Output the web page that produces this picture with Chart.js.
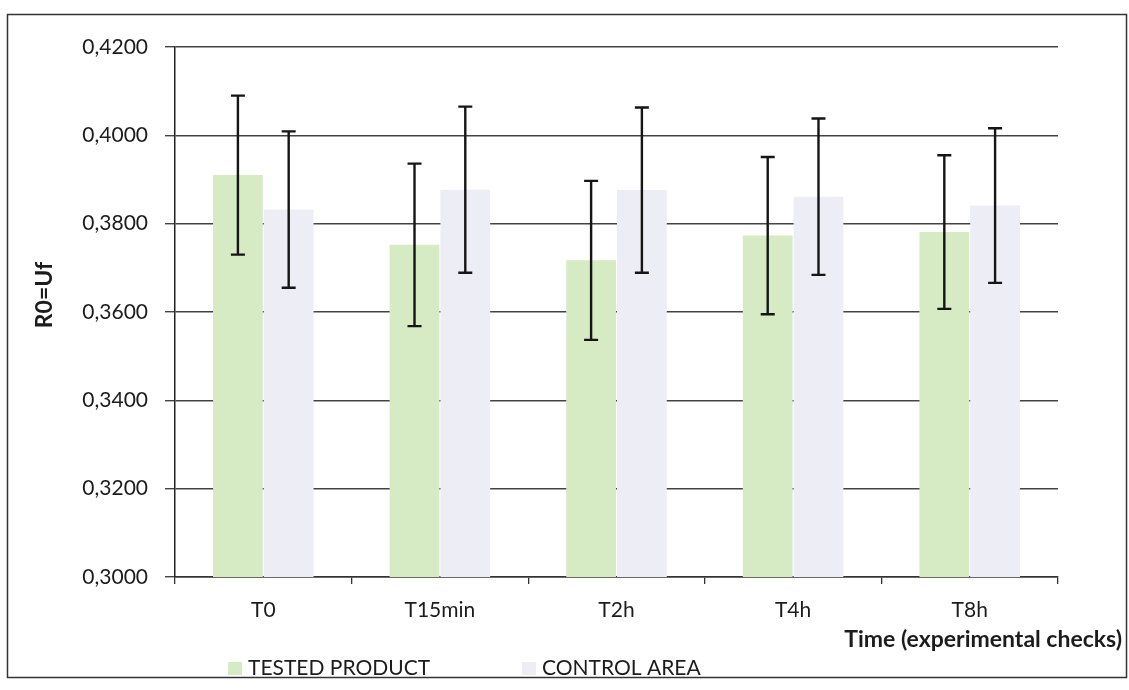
<!DOCTYPE html>
<html>
<head>
<meta charset="utf-8">
<script src="https://cdn.jsdelivr.net/npm/chart.js@4.4.1/dist/chart.umd.min.js"></script>
<style>
  html, body { margin: 0; padding: 0; background: #fff; }
</style>
</head>
<body>
<canvas id="chart" width="1129" height="690"></canvas>
<script>
// data
const categories = ['T0', 'T15min', 'T2h', 'T4h', 'T8h'];
const testedValues = [0.3910, 0.3752, 0.3717, 0.3773, 0.3781];
const testedErrors = [0.0180, 0.0184, 0.0180, 0.0178, 0.0174];
const controlValues = [0.3832, 0.3877, 0.3876, 0.3861, 0.3841];
const controlErrors = [0.0177, 0.0188, 0.0187, 0.0177, 0.0175];
const yMin = 0.30, yMax = 0.42, yStep = 0.02;

const FONT = 'Lato, "Open Sans", sans-serif';
const TEXT = '#1c1c1c';

// error bars, legend, axis titles and outer frame
const extras = {
    id: 'extras',
    afterDatasetsDraw(chart) {
        const ctx = chart.ctx;
        const y = chart.scales.y;
        ctx.save();
        ctx.strokeStyle = '#151515';
        ctx.lineWidth = 2.4;
        chart.data.datasets.forEach((ds, di) => {
            const meta = chart.getDatasetMeta(di);
            meta.data.forEach((bar, i) => {
                const v = ds.data[i], e = ds.errors[i];
                const yt = y.getPixelForValue(v + e);
                const yb = y.getPixelForValue(v - e);
                ctx.beginPath();
                ctx.moveTo(bar.x, yt); ctx.lineTo(bar.x, yb);
                ctx.moveTo(bar.x - 7, yt); ctx.lineTo(bar.x + 7, yt);
                ctx.moveTo(bar.x - 7, yb); ctx.lineTo(bar.x + 7, yb);
                ctx.stroke();
            });
        });
        ctx.restore();
    },
    afterDraw(chart) {
        const ctx = chart.ctx;
        ctx.save();
        // frame
        ctx.strokeStyle = '#333';
        ctx.lineWidth = 1.5;
        ctx.strokeRect(7.5, 14.5, 1119, 663);

        // y title
        ctx.fillStyle = TEXT;
        ctx.font = 'bold 23px ' + FONT;
        ctx.textAlign = 'center';
        ctx.textBaseline = 'middle';
        ctx.translate(45, 295);
        ctx.rotate(-Math.PI / 2);
        ctx.fillText('R0=Uf', 0, 0);
        ctx.setTransform(1, 0, 0, 1, 0, 0);

        // x title
        ctx.textAlign = 'right';
        ctx.fillText('Time (experimental checks)', 1122, 640);

        // legend
        const legendX = [228, 522];
        ctx.font = '21px ' + FONT;
        ctx.textAlign = 'left';
        chart.data.datasets.forEach((ds, di) => {
            ctx.fillStyle = ds.backgroundColor;
            ctx.fillRect(legendX[di], 662, 14, 13);
            ctx.fillStyle = TEXT;
            ctx.fillText(ds.label, legendX[di] + 20, 668);
        });
        ctx.restore();
    }
};

new Chart(document.getElementById('chart'), {
    type: 'bar',
    data: {
        labels: categories,
        datasets: [{
            label: 'TESTED PRODUCT',
            data: testedValues,
            errors: testedErrors,
            backgroundColor: '#d6eac4',
            categoryPercentage: 0.575,
            barPercentage: 0.98
        }, {
            label: 'CONTROL AREA',
            data: controlValues,
            errors: controlErrors,
            backgroundColor: '#ededf6',
            categoryPercentage: 0.575,
            barPercentage: 0.98
        }]
    },
    options: {
        responsive: false,
        animation: false,
        layout: { padding: { left: 0, right: 71, top: 47, bottom: 0 } },
        plugins: {
            legend: { display: false },
            tooltip: { enabled: false }
        },
        scales: {
            x: {
                afterFit: s => { s.height = 113; },
                grid: { drawOnChartArea: false, tickLength: 7, color: '#333', lineWidth: 1.3 },
                border: { color: '#333', width: 1.5 },
                ticks: { color: TEXT, font: { family: FONT, size: 21 }, padding: 14 }
            },
            y: {
                min: yMin,
                max: yMax,
                afterFit: s => { s.width = 175; },
                grid: { color: '#444', lineWidth: 1.4, tickLength: 10 },
                border: { color: '#222', width: 1.5 },
                ticks: {
                    stepSize: yStep,
                    padding: 17,
                    color: TEXT,
                    font: { family: FONT, size: 21 },
                    callback: v => (Math.round(v * 10000) / 10000).toFixed(4).replace('.', ',')
                }
            }
        }
    },
    plugins: [extras]
});
</script>
</body>
</html>
